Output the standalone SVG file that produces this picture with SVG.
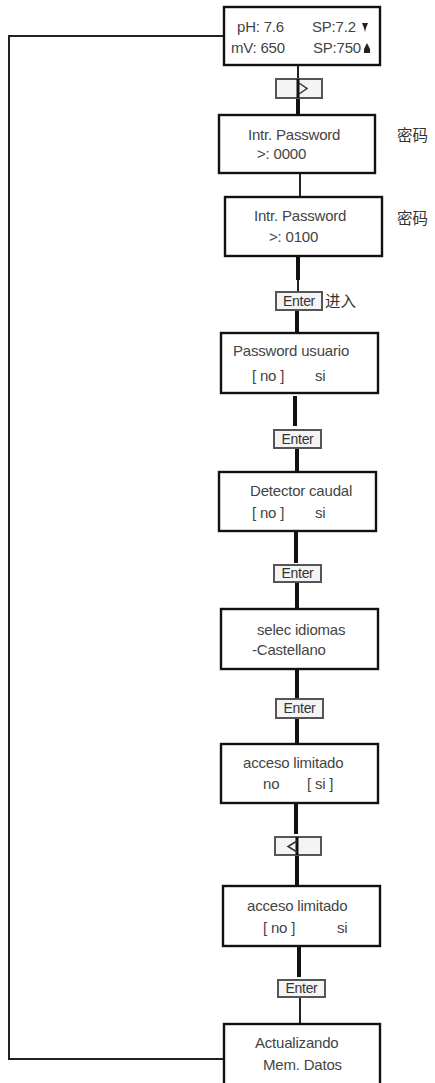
<svg xmlns="http://www.w3.org/2000/svg" width="435" height="1083" viewBox="0 0 435 1083">
<style>
.box{fill:#fff;stroke:#111;stroke-width:2.4}
.t{font-family:"Liberation Sans",Arial,sans-serif;font-size:15px;fill:#444;letter-spacing:-0.2px}
.cn{font-family:"Noto Sans CJK SC",sans-serif;font-size:15.5px;fill:#333}
.btn{fill:#f4f4f4;stroke:#555;stroke-width:2}
.bt{font-family:"Liberation Sans",Arial,sans-serif;font-size:14px;fill:#333;letter-spacing:-0.3px}
.thick{stroke:#111;stroke-width:4;fill:none}
.thin{stroke:#222;stroke-width:2;fill:none}
.loop{stroke:#222;stroke-width:2;fill:none}
</style>
<rect width="435" height="1083" fill="#fff"/>
<g id="connectors">
<path class="loop" d="M224 36 H9 V1059 H224"/>
<path class="thin" d="M298 65 V79"/>
<path class="thick" d="M298 98 V115"/>
<path class="thin" d="M300 173 V197"/>
<path class="thick" d="M298 256 V280"/>
<path class="thin" d="M298 280 V292"/>
<path class="thick" d="M297 310 V333"/>
<path class="thick" d="M295 396 V426"/>
<path class="thick" d="M297 448 V472"/>
<path class="thick" d="M296 531 V563"/>
<path class="thick" d="M297 582 V609"/>
<path class="thick" d="M297 669 V698"/>
<path class="thick" d="M297 718 V744"/>
<path class="thick" d="M296 803 V834"/>
<path class="thick" d="M297 855 V886"/>
<path class="thick" d="M299 946 V977"/>
<path class="thin" d="M300 997 V1024"/>
</g>
<g id="n1">
<rect class="box" x="224" y="7" width="156" height="58"/>
<text class="t" x="237" y="32">pH: 7.6</text>
<text class="t" x="312" y="32">SP:7.2</text>
<path d="M362 23 h6 l-2 5 l-1 4 l-1 -4 z" fill="#222"/>
<text class="t" x="231" y="53">mV: 650</text>
<text class="t" x="313" y="53">SP:750</text>
<path d="M367 43 l3 6 v4 h-6 v-4 z" fill="#222"/>
</g>
<g id="b1">
<rect class="btn" x="276" y="79" width="46" height="19" fill="#fafafa"/>
<path d="M298 79 V98" stroke="#111" stroke-width="3"/>
<path d="M299 83 L307 88.5 L299 94" fill="none" stroke="#333" stroke-width="1.5"/>
</g>
<g id="n2">
<rect class="box" x="219" y="115" width="156" height="58"/>
<text class="t" x="248" y="140">Intr. Password</text>
<text class="t" x="257" y="159">&gt;: 0000</text>
<text class="cn" x="397" y="141">密码</text>
</g>
<g id="n3">
<rect class="box" x="225" y="197" width="157" height="59"/>
<text class="t" x="254" y="221">Intr. Password</text>
<text class="t" x="269" y="242">&gt;: 0100</text>
<text class="cn" x="397" y="224">密码</text>
</g>
<g id="e1">
<rect class="btn" x="276" y="292" width="46" height="18"/>
<text class="bt" x="299" y="306" text-anchor="middle">Enter</text>
<text class="cn" x="325" y="307">进入</text>
</g>
<g id="n4">
<rect class="box" x="221" y="333" width="157" height="60"/>
<text class="t" x="233" y="356">Password usuario</text>
<text class="t" x="252" y="381">[ no ]</text>
<text class="t" x="315" y="381">si</text>
</g>
<g id="e2">
<rect class="btn" x="274" y="430" width="47" height="18"/>
<text class="bt" x="297.5" y="444" text-anchor="middle">Enter</text>
</g>
<g id="n5">
<rect class="box" x="219" y="472" width="157" height="59"/>
<text class="t" x="250" y="496">Detector caudal</text>
<text class="t" x="252" y="518">[ no ]</text>
<text class="t" x="315" y="518">si</text>
</g>
<g id="e3">
<rect class="btn" x="274" y="565" width="47" height="17"/>
<text class="bt" x="297.5" y="578" text-anchor="middle">Enter</text>
</g>
<g id="n6">
<rect class="box" x="221" y="609" width="157" height="60"/>
<text class="t" x="257" y="635">selec idiomas</text>
<text class="t" x="252" y="655">-Castellano</text>
</g>
<g id="e4">
<rect class="btn" x="276" y="699" width="47" height="19"/>
<text class="bt" x="299.5" y="713" text-anchor="middle">Enter</text>
</g>
<g id="n7">
<rect class="box" x="221" y="744" width="157" height="59"/>
<text class="t" x="243" y="768">acceso limitado</text>
<text class="t" x="263" y="789">no</text>
<text class="t" x="307" y="789">[ si ]</text>
</g>
<g id="b2">
<rect class="btn" x="275" y="837" width="46" height="18" fill="#fafafa"/>
<path d="M297 837 V855" stroke="#111" stroke-width="3"/>
<path d="M297 841 L288 846.5 L297 852" fill="none" stroke="#333" stroke-width="1.5"/>
</g>
<g id="n8">
<rect class="box" x="223" y="886" width="157" height="60"/>
<text class="t" x="247" y="911">acceso limitado</text>
<text class="t" x="263" y="933">[ no ]</text>
<text class="t" x="337" y="933">si</text>
</g>
<g id="e5">
<rect class="btn" x="278" y="980" width="47" height="17"/>
<text class="bt" x="301.5" y="993" text-anchor="middle">Enter</text>
</g>
<g id="n9">
<rect class="box" x="224" y="1024" width="156" height="62"/>
<text class="t" x="255" y="1048">Actualizando</text>
<text class="t" x="263" y="1070">Mem. Datos</text>
</g>
</svg>
